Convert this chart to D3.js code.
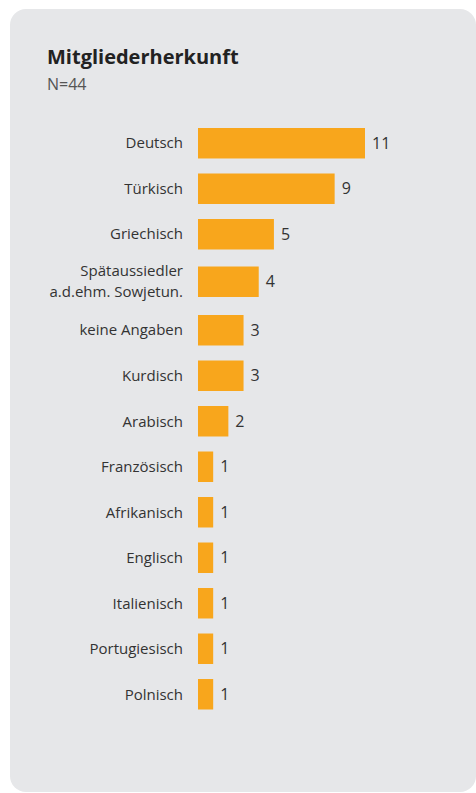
<!DOCTYPE html>
<html>
<head>
<meta charset="utf-8">
<script src="https://cdn.jsdelivr.net/npm/d3@7"></script>
<style>
  body { margin: 0; background: #fff; }
  svg { display: block; font-family: "Open Sans", "Noto Sans", sans-serif; }
</style>
</head>
<body>
<div id="chart"></div>
<script>
// data
var categories = ["Deutsch", "Türkisch", "Griechisch", "Spätaussiedler\na.d.ehm. Sowjetun.",
  "keine Angaben", "Kurdisch", "Arabisch", "Französisch", "Afrikanisch",
  "Englisch", "Italienisch", "Portugiesisch", "Polnisch"];
var counts = [11, 9, 5, 4, 3, 3, 2, 1, 1, 1, 1, 1, 1];
var title = "Mitgliederherkunft";
var subtitle = "N=44";

var width = 476, height = 793;

var svg = d3.select("#chart").append("svg")
    .attr("width", width)
    .attr("height", height);

// grey card behind everything
svg.append("rect")
    .attr("x", 10).attr("y", 9)
    .attr("width", 466).attr("height", 783)
    .attr("rx", 16)
    .attr("fill", "#e6e7e9");

svg.append("text")
    .attr("x", 47).attr("y", 64)
    .attr("font-size", 20)
    .attr("font-weight", "bold")
    .attr("fill", "#222")
    .text(title);

svg.append("text")
    .attr("x", 47).attr("y", 90)
    .attr("font-size", 16)
    .attr("fill", "#555")
    .text(subtitle);

var x = d3.scaleLinear()
    .domain([0, 11])
    .range([198, 365]);

var y = d3.scaleBand()
    .domain(categories)
    .range([128, 704.5])
    .paddingInner(0.33)
    .paddingOuter(0);

// the two-line label gets a little more room around it
function rowY(d) {
    var i = categories.indexOf(d);
    return y(d) + (i >= 3 ? 2 : 0) + (i >= 4 ? 3 : 0);
}

var rows = svg.selectAll(".row")
    .data(categories)
    .enter().append("g")
    .attr("class", "row");

rows.append("rect")
    .attr("x", x(0))
    .attr("y", function(d) { return rowY(d); })
    .attr("width", function(d, i) { return x(counts[i]) - x(0); })
    .attr("height", y.bandwidth())
    .attr("fill", "#f8a61c");

// value labels
rows.append("text")
    .attr("x", function(d, i) { return x(counts[i]) + 7; })
    .attr("y", function(d) { return rowY(d) + y.bandwidth() / 2; })
    .attr("dy", "0.35em")
    .attr("font-size", 16)
    .attr("fill", "#333")
    .text(function(d, i) { return counts[i]; });

// category labels, may be two lines
rows.each(function(d) {
    var lines = d.split("\n");
    var t = d3.select(this).append("text")
        .attr("text-anchor", "end")
        .attr("font-size", 15)
        .attr("fill", "#333");
    var cy = rowY(d) + y.bandwidth() / 2;
    lines.forEach(function(line, k) {
        t.append("tspan")
            .attr("x", 183)
            .attr("y", cy + (k - (lines.length - 1) / 2) * 21)
            .attr("dy", "0.35em")
            .text(line);
    });
});
</script>
</body>
</html>
